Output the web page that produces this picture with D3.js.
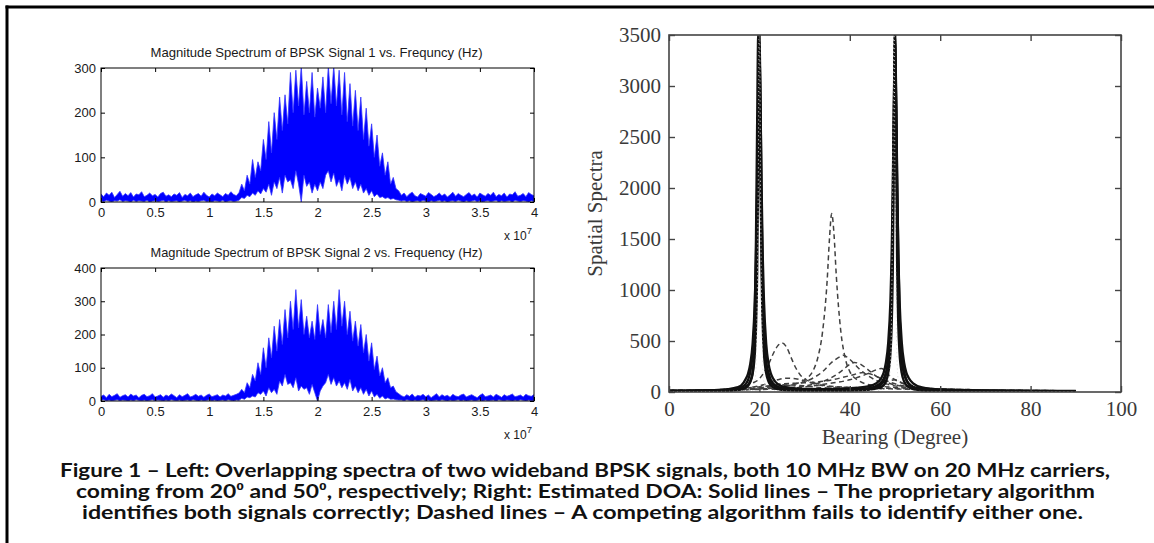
<!DOCTYPE html>
<html><head><meta charset="utf-8">
<script src="https://cdn.jsdelivr.net/npm/d3@7"></script>
<style>body{margin:0;background:#fff} svg{display:block}</style>
</head><body><svg id="c" width="1154" height="543"></svg>
<script>
// ---------- LEFT: BPSK magnitude spectra (x in units of 1e7 Hz, step 0.025) ----------
const freqStep = 0.025;
const freqTickValues = [0, 0.5, 1, 1.5, 2, 2.5, 3, 3.5, 4];
const freqTickLabels = ["0", "0.5", "1", "1.5", "2", "2.5", "3", "3.5", "4"];

const sig1Title = "Magnitude Spectrum of BPSK Signal 1 vs. Frequncy (Hz)";
const sig1YTicks = [0, 100, 200, 300];
const sig1High = [
  18,12,20,15,22,10,17,24,13,19,14,21,11,18,16,23,12,15,20,14,17,11,19,22,13,16,12,18,15,21,10,17,14,20,12,16,19,13,22,15,11,18,14,20,16,12,19,15,23,17,14,21,
  40,25,60,40,95,55,90,70,140,95,180,110,200,140,235,160,240,175,290,200,295,215,305,195,270,200,290,190,255,210,280,200,305,220,305,215,295,195,290,180,265,170,250,160,235,140,210,125,175,100,150,80,110,60,90,40,55,30,25,
  15,20,12,18,22,14,11,19,16,13,21,17,12,15,20,14,18,11,16,22,13,19,15,12,17,21,14,18,11,20,16,13,19,15,22,12,17,14,20,11,18,16,23,13,15,19,12,21,17,14
];
const sig1Low = [
  3,1,4,2,0,3,2,5,1,3,2,0,4,1,3,2,1,4,0,2,3,1,2,4,0,3,1,2,3,0,2,4,1,3,0,2,1,3,4,1,2,0,3,2,1,4,0,2,3,1,2,4,
  10,8,15,12,20,15,25,18,30,22,40,15,45,30,55,20,60,45,50,30,70,40,0,60,35,45,20,40,25,45,30,60,70,45,65,35,50,25,60,40,55,30,45,25,40,20,30,15,25,12,18,10,12,8,10,6,8,5,4,
  2,4,1,3,0,2,3,1,4,2,0,3,1,2,4,1,3,0,2,3,1,4,2,0,3,1,2,4,1,3,0,2,3,1,2,4,0,3,1,2,3,0,4,2,1,3,2,0,3,1
];

const sig2Title = "Magnitude Spectrum of BPSK Signal 2 vs. Frequency (Hz)";
const sig2YTicks = [0, 100, 200, 300, 400];
const sig2High = [
  14,18,10,20,13,17,22,11,16,19,12,21,15,18,10,17,20,13,16,22,12,15,19,11,18,14,21,16,10,19,13,17,22,12,15,20,14,18,11,17,21,13,16,19,12,18,15,22,14,17,20,24,
  35,25,55,40,80,60,115,80,160,100,190,130,225,150,245,170,275,190,300,215,335,220,305,200,255,190,240,185,290,200,245,190,290,205,300,215,335,225,300,200,270,180,240,165,230,145,200,120,175,95,135,75,100,55,70,40,45,28,22,
  16,12,19,14,21,11,17,15,20,13,18,10,16,22,12,19,14,17,11,20,15,13,18,21,12,16,19,14,10,17,22,13,15,18,12,20,16,11,19,14,17,21,13,15,18,12,20,16,14,19
];
const sig2Low = [
  2,4,1,3,0,2,4,1,3,2,0,3,1,4,2,1,3,0,2,4,1,3,2,0,3,1,4,2,1,3,0,2,3,1,4,2,0,3,1,2,4,1,3,0,2,3,1,4,2,0,3,2,
  8,5,12,10,15,12,25,20,30,15,40,25,35,20,60,45,80,50,55,40,70,30,45,35,40,20,50,25,0,30,45,55,80,50,70,45,60,40,55,35,65,30,45,25,40,20,35,15,30,12,20,8,15,6,10,5,6,4,3,
  3,1,4,2,0,3,1,2,4,1,3,0,2,3,1,4,2,0,3,1,2,4,1,3,0,2,3,1,2,4,0,3,1,2,3,0,4,2,1,3,2,0,3,1,4,2,0,3,1,2
];

// ---------- RIGHT: spatial spectra vs bearing ----------
const bearingTicks = [0, 20, 40, 60, 80, 100];
const spectraTicks = [0, 500, 1000, 1500, 2000, 2500, 3000, 3500];
const solidBearing = [0,5,10,13,15,16,17,17.5,18,18.5,19,19.25,19.5,19.75,20,20.25,20.5,20.75,21,21.5,22,22.5,23,24,26,30,35,40,44,46,47,47.5,48,48.5,49,49.25,49.5,49.75,50,50.25,50.5,50.75,51,51.5,52,52.5,53,54,56,60,70,80,90];
const solid1 = [8,9,12,16,25,35,50,70,110,190,560,900,1750,2800,3450,2800,1750,1000,650,300,190,120,85,50,30,20,18,22,35,60,95,130,190,320,650,1000,1750,2800,3450,2800,1750,950,600,300,180,120,85,50,28,15,9,7,6];
const solid2 = [5,6,8,12,18,25,45,62,100,180,390,640,1180,2380,3600,2380,1180,640,390,185,105,68,48,28,16,12,10,14,22,35,48,66,105,185,390,640,1180,2380,3600,2380,1180,640,390,185,105,68,48,28,15,10,7,6,5];
const solid3 = [12,14,18,28,45,65,130,180,280,470,900,1300,1950,2800,3300,2800,1950,1300,900,470,280,185,135,80,45,30,28,35,55,90,140,190,290,480,900,1300,1950,2800,3300,2800,1950,1300,900,480,290,190,140,85,45,25,15,12,10];
const solid4 = [10,11,14,20,32,45,80,120,200,380,800,1500,2600,3500,3100,2100,1300,800,520,250,150,95,70,42,26,18,16,20,30,50,75,110,170,300,600,950,1600,2500,3500,2900,2000,1300,800,380,200,120,80,45,25,14,9,8,7];
const dottedPeak = [4,4,5,6,8,10,14,20,30,50,100,250,800,2000,3800,2000,800,250,100,50,30,20,14,10,8,6,6,7,10,14,20,30,50,100,250,800,2000,3800,2000,800,250,100,50,30,20,14,10,8,6,5,4,4,4];

const dashed1 = [[0,15],[5,18],[10,22],[15,40],[18,80],[20,130],[21,190],[22,270],[23,370],[24,450],[25,480],[26,440],[27,340],[28,240],[29,170],[30,130],[32,90],[35,60],[40,45],[45,35],[50,30],[60,20],[70,15],[80,12],[90,10]];
const dashed2 = [[0,10],[10,15],[20,30],[25,50],[28,80],[30,120],[32,220],[33,350],[34,600],[35,1100],[35.5,1500],[36,1750],[36.5,1550],[37,1150],[38,600],[39,330],[40,200],[42,110],[45,65],[50,45],[60,25],[70,15],[90,10]];
const dashed3 = [[0,12],[10,16],[20,40],[25,60],[28,80],[30,100],[32,140],[34,200],[36,290],[38,350],[38.5,360],[40,320],[42,230],[44,160],[46,110],[48,80],[50,60],[55,35],[60,25],[90,10]];
const dashed4 = [[0,14],[10,18],[20,30],[25,40],[30,60],[35,120],[38,200],[40,270],[41,290],[42,280],[44,220],[46,150],[48,100],[50,70],[60,30],[90,12]];
const dashed5 = [[0,16],[10,20],[20,25],[25,30],[30,50],[35,80],[40,120],[44,180],[46,220],[47,230],[48,200],[49,150],[50,120],[55,50],[60,30],[90,12]];
const dashed6 = [[0,13],[10,18],[20,60],[24,120],[26,135],[28,130],[30,110],[33,70],[36,50],[40,45],[45,40],[50,35],[60,25],[90,10]];
const dashed7 = [[0,11],[10,15],[20,40],[25,80],[30,90],[35,110],[40,160],[43,190],[45,170],[47,130],[50,80],[55,40],[60,25],[90,10]];
const dashed8 = [[0,17],[10,20],[20,50],[25,70],[30,60],[35,40],[40,40],[45,60],[48,100],[50,120],[52,80],[55,40],[60,25],[90,10]];

const captionLines = [
  "Figure 1 \u2013 Left: Overlapping spectra of two wideband BPSK signals, both 10 MHz BW on 20 MHz carriers,",
  "coming from 20\u2070 and 50\u2070, respectively; Right: Estimated DOA:  Solid lines \u2013 The proprietary algorithm",
  "identifies both signals correctly; Dashed lines \u2013 A competing algorithm fails to identify either one."
];

// ---------- drawing ----------
const svg = d3.select("#c");
const defs = svg.append("defs");

// frame (top and left edges visible)
svg.append("line").attr("x1", 5.5).attr("x2", 1154).attr("y1", 7).attr("y2", 7).attr("stroke", "#000").attr("stroke-width", 3);
svg.append("line").attr("x1", 7).attr("x2", 7).attr("y1", 5.5).attr("y2", 543).attr("stroke", "#000").attr("stroke-width", 3);

const freq = sig1High.map((d, i) => i * freqStep);
const sans = "Liberation Sans, Arial, sans-serif";

function spectrum(id, topY, botY, title, yMax, yTicks, hi, lo) {
  const x = d3.scaleLinear().domain([0, 4]).range([101, 534]);
  const y = d3.scaleLinear().domain([0, yMax]).range([botY, topY]);
  const g = svg.append("g");
  defs.append("clipPath").attr("id", id).append("rect")
    .attr("x", x(0)).attr("y", y(yMax)).attr("width", x(4) - x(0)).attr("height", y(0) - y(yMax));
  const area = d3.area()
    .x((d, i) => x(freq[i]))
    .y0((d, i) => y(lo[i]))
    .y1((d, i) => y(hi[i]));
  g.append("path").datum(hi).attr("d", area)
    .attr("fill", "#0000ff").attr("stroke", "#3535ff").attr("stroke-width", 0.8)
    .attr("clip-path", `url(#${id})`);
  const font = (sel) => sel.selectAll("text").attr("font-family", sans)
    .attr("font-size", 13).attr("fill", "#1a1a1a");
  const clean = (sel) => { sel.select(".domain").remove(); sel.selectAll("line").attr("stroke", "#000"); };
  g.append("g").attr("transform", `translate(0,${botY})`)
    .call(d3.axisBottom(x).tickValues(freqTickValues).tickFormat((d, i) => freqTickLabels[i]).tickSize(-4).tickPadding(6))
    .call(clean).call(font);
  g.append("g").attr("transform", `translate(0,${topY})`)
    .call(d3.axisTop(x).tickValues(freqTickValues).tickFormat("").tickSize(-4)).call(clean);
  g.append("g").attr("transform", `translate(101,0)`)
    .call(d3.axisLeft(y).tickValues(yTicks).tickSize(-4).tickPadding(5)).call(clean).call(font);
  g.append("g").attr("transform", `translate(534,0)`)
    .call(d3.axisRight(y).tickValues(yTicks).tickFormat("").tickSize(-4)).call(clean);
  g.append("rect").attr("x", x(0)).attr("y", y(yMax)).attr("width", x(4) - x(0)).attr("height", y(0) - y(yMax))
    .attr("fill", "none").attr("stroke", "#000").attr("stroke-width", 1);
  g.append("text").attr("x", (x(0) + x(4)) / 2 - 1).attr("y", topY - 11).attr("text-anchor", "middle")
    .attr("font-family", sans).attr("font-size", 13).attr("fill", "#1a1a1a")
    .attr("textLength", 332).attr("lengthAdjust", "spacingAndGlyphs").text(title);
  const ex = g.append("text").attr("x", 504).attr("y", botY + 38)
    .attr("font-family", sans).attr("font-size", 12).attr("fill", "#1a1a1a");
  ex.append("tspan").text("x 10");
  ex.append("tspan").attr("dy", -6).attr("font-size", 9.5).text("7");
}

spectrum("clipA", 68, 202, sig1Title, 300, sig1YTicks, sig1High, sig1Low);
spectrum("clipB", 268, 401, sig2Title, 400, sig2YTicks, sig2High, sig2Low);

// right plot
(function () {
  const L = 669, R = 1121, T = 35, B = 392;
  const x = d3.scaleLinear().domain([0, 100]).range([L, R]);
  const y = d3.scaleLinear().domain([0, 3500]).range([B, T]);
  const g = svg.append("g");
  defs.append("clipPath").attr("id", "clipR").append("rect").attr("x", L).attr("y", T).attr("width", R - L).attr("height", B - T);
  const plot = g.append("g").attr("clip-path", "url(#clipR)");
  const lineXY = d3.line().x(d => x(d[0])).y(d => y(d[1])).curve(d3.curveMonotoneX);
  [dashed1, dashed2, dashed3, dashed4, dashed5, dashed6, dashed7, dashed8].forEach((s, k) => {
    plot.append("path").datum(s).attr("d", lineXY).attr("fill", "none")
      .attr("stroke", "#404040").attr("stroke-width", 1.5).attr("stroke-dasharray", "5,3.5")
      .attr("stroke-dashoffset", k * 2);
  });
  [solid1, solid2, solid3, solid4].forEach(s => {
    plot.append("path").datum(s.map((v, i) => [solidBearing[i], v])).attr("d", lineXY).attr("fill", "none")
      .attr("stroke", "#111").attr("stroke-width", 2.4);
  });
  plot.append("path").datum(dottedPeak.map((v, i) => [solidBearing[i], v])).attr("d", lineXY).attr("fill", "none")
    .attr("stroke", "#ddd").attr("stroke-width", 1).attr("stroke-dasharray", "1,3");

  const serif = "Liberation Serif, Times New Roman, serif";
  const font = (sel) => sel.selectAll("text").attr("font-family", serif).attr("font-size", 21).attr("fill", "#3a3a3a");
  const clean = (sel) => { sel.select(".domain").remove(); sel.selectAll("line").attr("stroke", "#444").attr("stroke-width", 1.4); };
  g.append("g").attr("transform", `translate(0,${B})`)
    .call(d3.axisBottom(x).tickValues(bearingTicks).tickFormat(d3.format("d")).tickSize(-6).tickPadding(9)).call(clean).call(font);
  g.append("g").attr("transform", `translate(0,${T})`)
    .call(d3.axisTop(x).tickValues(bearingTicks).tickFormat("").tickSize(-6)).call(clean);
  g.append("g").attr("transform", `translate(${L},0)`)
    .call(d3.axisLeft(y).tickValues(spectraTicks).tickFormat(d3.format("d")).tickSize(-6).tickPadding(8)).call(clean).call(font);
  g.append("g").attr("transform", `translate(${R},0)`)
    .call(d3.axisRight(y).tickValues(spectraTicks).tickFormat("").tickSize(-6)).call(clean);
  g.append("rect").attr("x", L).attr("y", T).attr("width", R - L).attr("height", B - T)
    .attr("fill", "none").attr("stroke", "#444").attr("stroke-width", 1.6);
  g.append("text").attr("x", (L + R) / 2).attr("y", 444).attr("text-anchor", "middle")
    .attr("font-family", serif).attr("font-size", 21).attr("fill", "#3a3a3a").text("Bearing (Degree)");
  g.append("text").attr("transform", `translate(602,${(T + B) / 2}) rotate(-90)`).attr("text-anchor", "middle")
    .attr("font-family", serif).attr("font-size", 21).attr("fill", "#3a3a3a").text("Spatial Spectra");
})();

// caption
const capX = [[60, 1110], [76, 1095], [82, 1083]];
const capY = [477, 498, 519];
captionLines.forEach((t, i) => {
  svg.append("text").attr("x", capX[i][0]).attr("y", capY[i])
    .attr("font-family", "Lato, Noto Sans, sans-serif").attr("font-weight", "bold").attr("font-size", 18)
    .attr("fill", "#111")
    .attr("textLength", capX[i][1] - capX[i][0]).attr("lengthAdjust", "spacingAndGlyphs").text(t);
});
</script></body></html>
